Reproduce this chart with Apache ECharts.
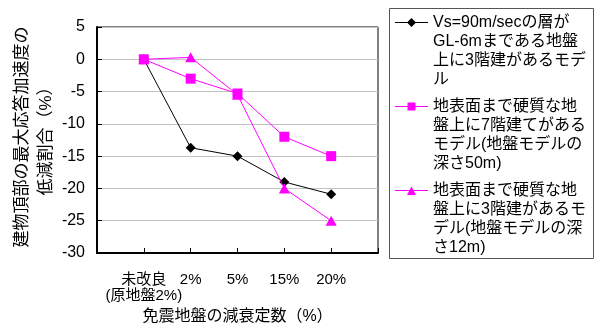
<!DOCTYPE html>
<html>
<head>
<meta charset="utf-8">
<title>免震地盤の減衰定数と応答加速度の低減割合</title>
<script src="https://cdn.jsdelivr.net/npm/echarts@6/dist/echarts.min.js"></script>
<style>
  html, body { margin: 0; padding: 0; background: #ffffff; }
  #chart { width: 597px; height: 333px; }
</style>
</head>
<body>
<div id="chart"></div>
<script>
// Damping constants of the isolation ground (x categories)
const categories = ['未改良\n(原地盤2%)', '2%', '5%', '15%', '20%'];

// Reduction ratio of the peak response acceleration at the building top (%)
const vsLayerModel = [0, -13.7, -15, -19, -20.9];
const hardGround7F = [0, -3, -5.3, -12, -15];
const hardGround3F = [0, 0.3, -5.5, -20, -25];

const yTicks = { min: -30, max: 5, interval: 5 };

const seriesNames = [
  'Vs=90m/secの層が\nGL-6mまである地盤\n上に3階建があるモデ\nル',
  '地表面まで硬質な地\n盤上に7階建てがある\nモデル(地盤モデルの\n深さ50m)',
  '地表面まで硬質な地\n盤上に3階建があるモ\nデル(地盤モデルの深\nさ12m)'
];

const FONT = '"Liberation Sans", "Noto Sans CJK JP", sans-serif';
const MAGENTA = '#ff00ff';

// x positions: categories sit at 1..5 on a 0..6 value axis
const toPoints = vals => vals.map((v, i) => [i + 1, v]);

// Legend icons: a short line with the marker on the first text line
const ICON_W = 33, ICON_H = 76;
const frame = 'M0,0L0,0M' + ICON_W + ',' + ICON_H + 'L' + ICON_W + ',' + ICON_H;
const stroke = 'M0,9L33,9L33,10L0,10Z';
const icons = [
  'path://' + frame + stroke + 'M12,9.5L16.5,5L21,9.5L16.5,14Z',
  'path://' + frame + stroke + 'M12.5,5.5L20.5,5.5L20.5,13.5L12.5,13.5Z',
  'path://' + frame + stroke + 'M12,14L16.5,5.5L21,14Z'
];

const chart = echarts.init(document.getElementById('chart'), null, { renderer: 'canvas' });

chart.setOption({
  backgroundColor: '#ffffff',
  animation: false,
  textStyle: { fontFamily: FONT, color: '#000' },
  grid: {
    left: 97, right: 219, top: 27, bottom: 80,
    show: true, borderColor: '#000', borderWidth: 1, backgroundColor: 'transparent'
  },
  xAxis: {
    type: 'value',
    min: 0, max: 6, interval: 1,
    name: '免震地盤の減衰定数（%）',
    nameLocation: 'middle',
    nameGap: 51,
    nameTextStyle: { fontFamily: FONT, fontSize: 16, color: '#000' },
    axisLine: { show: true, onZero: false, lineStyle: { color: '#000', width: 2 } },
    axisTick: { show: true, inside: true, length: 5, lineStyle: { color: '#000' } },
    splitLine: { show: false },
    axisLabel: {
      margin: 19,
      fontFamily: FONT, fontSize: 15, lineHeight: 16, color: '#000',
      formatter: v => categories[v - 1] || ''
    }
  },
  yAxis: {
    type: 'value',
    min: yTicks.min, max: yTicks.max, interval: yTicks.interval,
    name: '建物頂部の最大応答加速度の\n低減割合（%）',
    nameLocation: 'middle',
    nameGap: 35,
    nameTextStyle: { fontFamily: FONT, fontSize: 17, lineHeight: 24, color: '#000', padding: [0, 0, 0, 6] },
    axisLine: { show: true, lineStyle: { color: '#000', width: 2 } },
    axisTick: { show: true, inside: true, length: 5, lineStyle: { color: '#000' } },
    splitLine: { show: true, lineStyle: { color: '#c4c4c4', width: 1 } },
    axisLabel: { margin: 12, fontFamily: FONT, fontSize: 16, color: '#000' }
  },
  legend: {
    orient: 'vertical',
    left: 395, top: 13,
    padding: 0,
    itemGap: 8,
    itemWidth: ICON_W, itemHeight: ICON_H,
    selectedMode: false,
    itemStyle: { borderWidth: 0 },
    textStyle: { fontFamily: FONT, fontSize: 16, lineHeight: 19, color: '#000' },
    data: seriesNames.map((n, i) => ({ name: n, icon: icons[i] }))
  },
  graphic: [{
    type: 'rect',
    shape: { x: 389.5, y: 8.5, width: 204, height: 250 },
    style: { fill: 'none', stroke: '#555', lineWidth: 1 },
    silent: true
  }],
  series: [
    {
      name: seriesNames[0], type: 'line', data: toPoints(vsLayerModel),
      symbol: 'diamond', symbolSize: 10, z: 2,
      lineStyle: { color: '#000', width: 1 }, itemStyle: { color: '#000' }
    },
    {
      name: seriesNames[1], type: 'line', data: toPoints(hardGround7F),
      symbol: 'rect', symbolSize: 10, z: 4,
      lineStyle: { color: MAGENTA, width: 1 }, itemStyle: { color: MAGENTA }
    },
    {
      name: seriesNames[2], type: 'line', data: toPoints(hardGround3F),
      symbol: 'triangle', symbolSize: [11, 10], z: 3,
      lineStyle: { color: MAGENTA, width: 1 }, itemStyle: { color: MAGENTA }
    }
  ]
});
</script>
</body>
</html>
